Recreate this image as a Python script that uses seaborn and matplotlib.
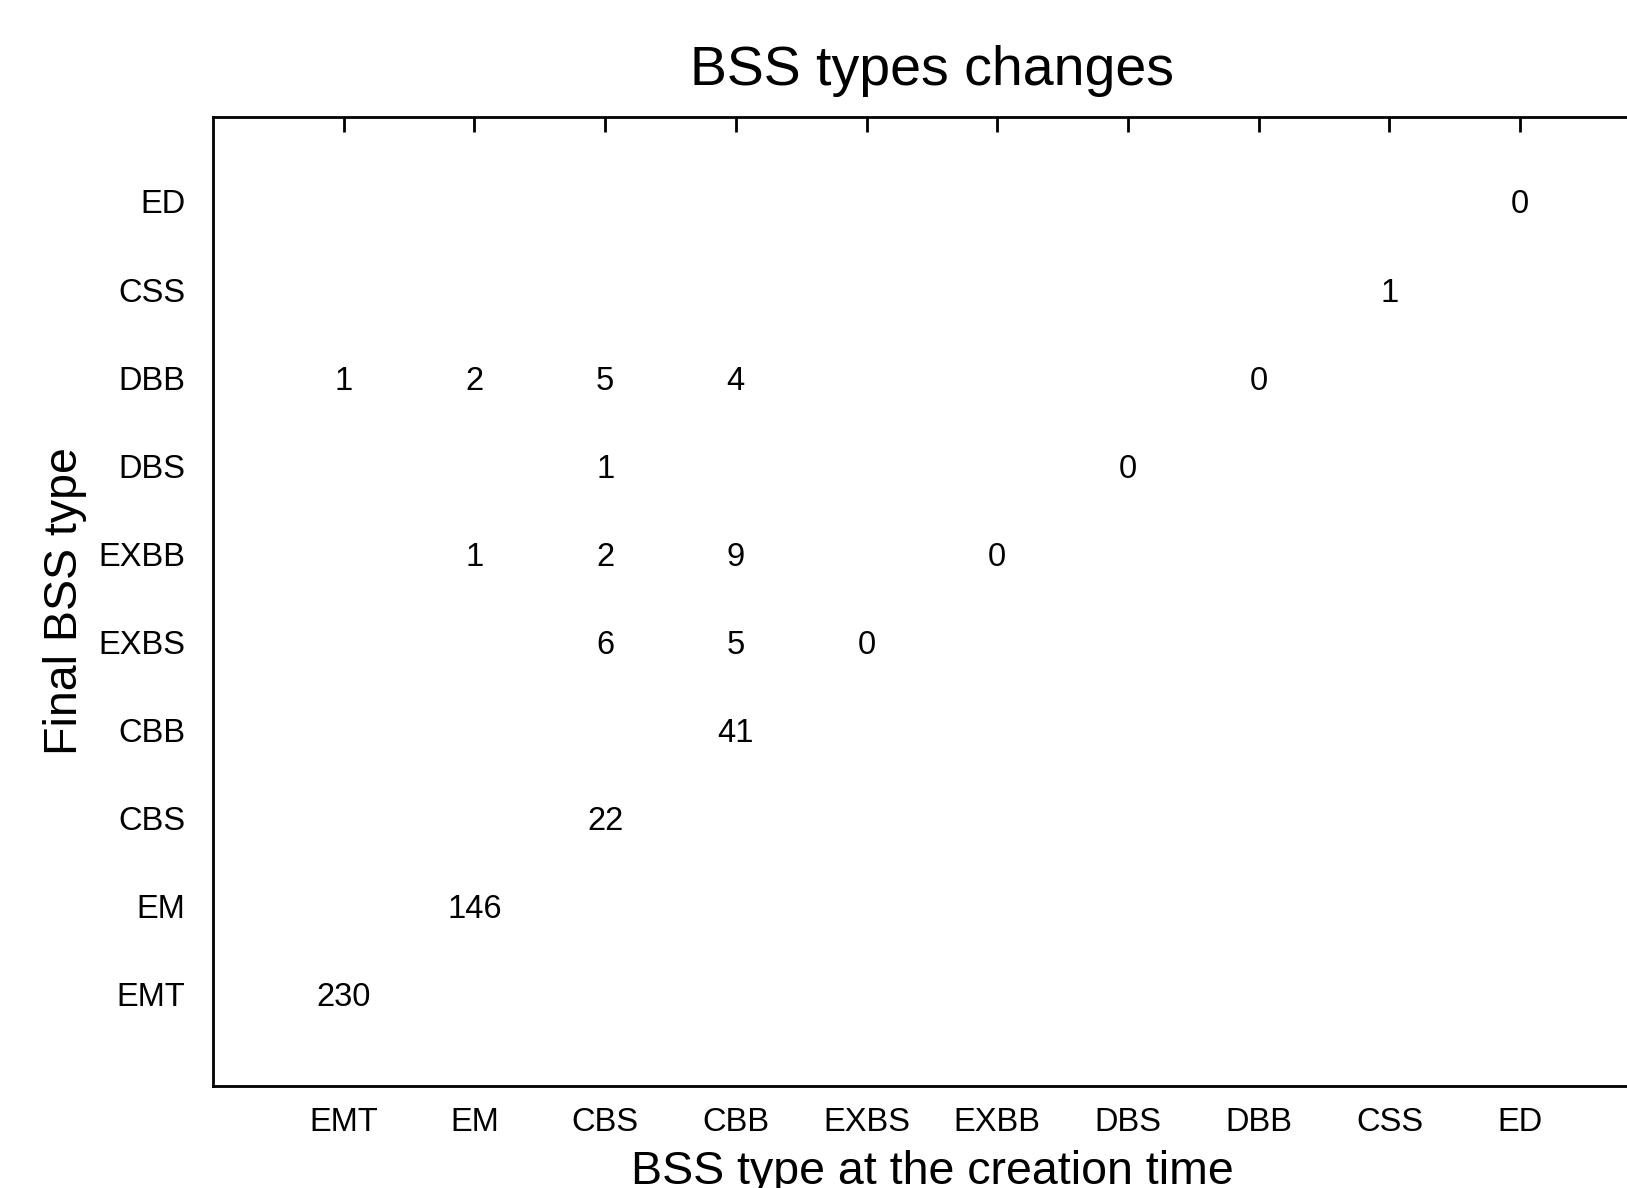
import numpy as np
import pandas as pd
import matplotlib
matplotlib.use("Agg")
import matplotlib.pyplot as plt
import seaborn as sns
from matplotlib.colors import ListedColormap

# categories (x: creation time, y: final type, listed top to bottom)
creation_types = ["EMT", "EM", "CBS", "CBB", "EXBS", "EXBB", "DBS", "DBB", "CSS", "ED"]
final_types = ["ED", "CSS", "DBB", "DBS", "EXBB", "EXBS", "CBB", "CBS", "EM", "EMT"]

# counts per final type row, NaN where no value is printed
row_ED   = [np.nan, np.nan, np.nan, np.nan, np.nan, np.nan, np.nan, np.nan, np.nan, 0]
row_CSS  = [np.nan, np.nan, np.nan, np.nan, np.nan, np.nan, np.nan, np.nan, 1, np.nan]
row_DBB  = [1, 2, 5, 4, np.nan, np.nan, np.nan, 0, np.nan, np.nan]
row_DBS  = [np.nan, np.nan, 1, np.nan, np.nan, np.nan, 0, np.nan, np.nan, np.nan]
row_EXBB = [np.nan, 1, 2, 9, np.nan, 0, np.nan, np.nan, np.nan, np.nan]
row_EXBS = [np.nan, np.nan, 6, 5, 0, np.nan, np.nan, np.nan, np.nan, np.nan]
row_CBB  = [np.nan, np.nan, np.nan, 41, np.nan, np.nan, np.nan, np.nan, np.nan, np.nan]
row_CBS  = [np.nan, np.nan, 22, np.nan, np.nan, np.nan, np.nan, np.nan, np.nan, np.nan]
row_EM   = [np.nan, 146, np.nan, np.nan, np.nan, np.nan, np.nan, np.nan, np.nan, np.nan]
row_EMT  = [230, np.nan, np.nan, np.nan, np.nan, np.nan, np.nan, np.nan, np.nan, np.nan]

df = pd.DataFrame(
    [row_ED, row_CSS, row_DBB, row_DBS, row_EXBB, row_EXBS, row_CBB, row_CBS, row_EM, row_EMT],
    index=final_types, columns=creation_types,
)

sns.set_style("white")
plt.rcParams["font.family"] = ["Liberation Sans", "DejaVu Sans"]
plt.rcParams["text.color"] = "black"
plt.rcParams["axes.labelcolor"] = "black"

fig = plt.figure(figsize=(16.27, 11.88), dpi=100)
ax = fig.add_axes([0.1309, 0.0859, 0.8838, 0.8157])

sns.heatmap(df, ax=ax, cmap=ListedColormap(["white"]), cbar=False,
            annot=True, fmt=".0f", annot_kws={"size": 23.5, "color": "black"},
            linewidths=0)

ax.set_xlim(-0.5, 10.5)
ax.set_ylim(10.5, -0.5)

for sp in ax.spines.values():
    sp.set_visible(True)
    sp.set_color("black")
    sp.set_linewidth(2)

ax.tick_params(axis="both", direction="in", length=10.5, width=2, color="black",
               labelsize=23.5, labelcolor="black", top=True, right=True)
ax.tick_params(axis="y", pad=20)
ax.tick_params(axis="x", pad=15)
plt.setp(ax.get_xticklabels(), rotation=0)
plt.setp(ax.get_yticklabels(), rotation=0)

ax.set_title("BSS types changes", fontsize=40, pad=23, color="black")
ax.set_xlabel("BSS type at the creation time", fontsize=33.5, labelpad=9)
ax.set_ylabel("Final BSS type", fontsize=33.5, labelpad=8)

fig.savefig("out.png", dpi=100)
